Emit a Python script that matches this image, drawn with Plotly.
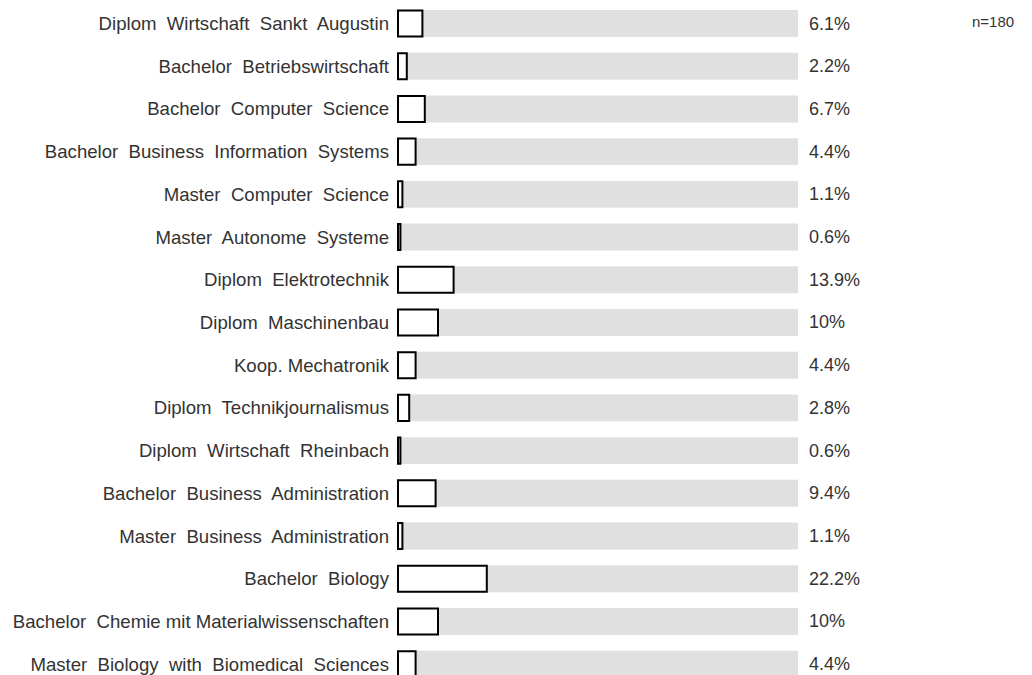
import plotly.graph_objects as go

categories = [
    "Diplom  Wirtschaft  Sankt  Augustin",
    "Bachelor  Betriebswirtschaft",
    "Bachelor  Computer  Science",
    "Bachelor  Business  Information  Systems",
    "Master  Computer  Science",
    "Master  Autonome  Systeme",
    "Diplom  Elektrotechnik",
    "Diplom  Maschinenbau",
    "Koop. Mechatronik",
    "Diplom  Technikjournalismus",
    "Diplom  Wirtschaft  Rheinbach",
    "Bachelor  Business  Administration",
    "Master  Business  Administration",
    "Bachelor  Biology",
    "Bachelor  Chemie mit Materialwissenschaften",
    "Master  Biology  with  Biomedical  Sciences",
]
values = [6.1, 2.2, 6.7, 4.4, 1.1, 0.6, 13.9, 10, 4.4, 2.8, 0.6, 9.4, 1.1, 22.2, 10, 4.4]
value_labels = ["6.1%", "2.2%", "6.7%", "4.4%", "1.1%", "0.6%", "13.9%", "10%",
                "4.4%", "2.8%", "0.6%", "9.4%", "1.1%", "22.2%", "10%", "4.4%"]
n_label = "n=180"
full_scale = 100

FONT = "Liberation Sans, Arial, sans-serif"
TXT = "#333333"

labels = [c.replace("  ", "\u00a0 ") for c in categories]
pos = list(range(len(categories)))

fig = go.Figure()
fig.add_trace(go.Bar(
    y=pos, x=[full_scale] * len(pos), orientation="h", width=0.63,
    marker=dict(color="#e0e0e0", line=dict(width=0)), hoverinfo="skip",
))
fig.add_trace(go.Bar(
    y=pos, x=values, orientation="h", width=0.61,
    marker=dict(color="white", line=dict(color="black", width=2)),
))

annotations = [
    dict(x=full_scale, y=p, text=t, xref="x", yref="y", xanchor="left",
         yanchor="middle", xshift=9, showarrow=False,
         font=dict(size=18, color=TXT, family=FONT))
    for p, t in zip(pos, value_labels)
]
annotations.append(dict(text=n_label, xref="paper", yref="paper", x=1, y=1,
                        xanchor="right", yanchor="middle", xshift=-16, yshift=-13,
                        showarrow=False, font=dict(size=15, color=TXT, family=FONT)))

fig.update_layout(
    width=1024, height=667, barmode="overlay", showlegend=False,
    margin=dict(l=388, r=0, t=0, b=0, pad=0),
    plot_bgcolor="white", paper_bgcolor="white",
    font=dict(family=FONT, size=18, color=TXT),
    xaxis=dict(range=[-0.5, 158.5], showgrid=False, zeroline=False,
               showticklabels=False, ticks="", fixedrange=True),
    yaxis=dict(range=[15.254, -0.363], tickvals=pos, ticktext=labels,
               showgrid=False, zeroline=False, ticks="", ticklabelstandoff=6,
               tickfont=dict(size=18.6, color=TXT, family=FONT),
               fixedrange=True),
    annotations=annotations,
)
fig.write_html("out.html", config=dict(displayModeBar=False))
